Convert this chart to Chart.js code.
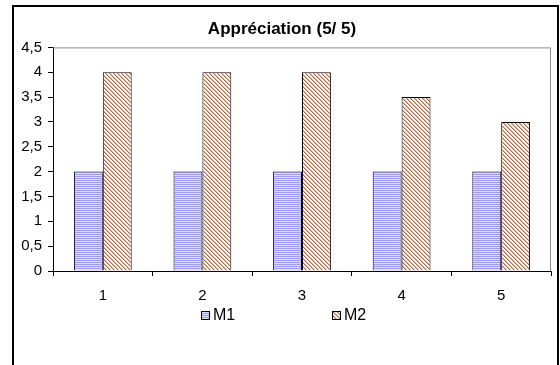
<!DOCTYPE html>
<html lang="fr">
<head>
<meta charset="UTF-8">
<title>Appréciation (5/ 5)</title>
<script src="https://cdn.jsdelivr.net/npm/chart.js"></script>
<style>
    html, body { margin: 0; padding: 0; background: #fff; }
    body { width: 560px; height: 365px; position: relative; overflow: hidden; font-family: 'Liberation Sans', Arial, sans-serif; }
    .frame {
        position: absolute; left: 12px; top: 5px; width: 543px; height: 400px;
        border: 2px solid #000; pointer-events: none;
    }
    .chart-wrapper { position: absolute; left: 0; top: 0; width: 560px; height: 365px; }
    /* legend drawn in html, Excel puts the two entries far apart */
    #legend { position: absolute; top: 305px; left: 0; width: 560px; height: 20px; }
    #legend .item { position: absolute; top: 0; display: flex; align-items: center; height: 20px; }
    #legend canvas { width: 9px; height: 9px; display: block; margin-right: 3px; }
    #legend span { font-size: 16px; color: #000; line-height: 20px; }
</style>
</head>
<body>
<div class="chart-wrapper"><canvas id="barChart"></canvas></div>
<div id="legend"></div>
<div class="frame"></div>

<script>
const categories = ['1', '2', '3', '4', '5'];
const seriesNames = ['M1', 'M2'];
const m1Values = [2, 2, 2, 2, 2];
const m2Values = [4, 4, 4, 3.5, 3];
const yMax = 4.5;
const yStep = 0.5;

// little tiles used as fill patterns (like the old Excel hatches)
function makePattern(size, pixelColor) {
    const c = document.createElement('canvas');
    c.width = size; c.height = size;
    const g = c.getContext('2d');
    for (let y = 0; y < size; y++) {
        for (let x = 0; x < size; x++) {
            g.fillStyle = pixelColor(x, y);
            g.fillRect(x, y, 1, 1);
        }
    }
    return g.createPattern(c, 'repeat');
}

const stripesBlue = makePattern(2, (x, y) => y % 2 === 0 ? '#9c9cf6' : '#dcdcff');
const hatchBrown = makePattern(4, (x, y) => {
    const d = (x - y + 4) % 4;
    if (d === 0) return '#c0643e';
    if (d === 1) return '#e6b49c';
    return '#ffffff';
});

// gray top/right edge of the plot area
const plotFrame = {
    id: 'plotFrame',
    afterDatasetsDraw(chart) {
        const a = chart.chartArea, ctx = chart.ctx;
        ctx.save();
        ctx.strokeStyle = '#8c8c8c';
        ctx.lineWidth = 1;
        ctx.beginPath();
        ctx.moveTo(a.left, a.top + 0.5);
        ctx.lineTo(a.right - 0.5, a.top + 0.5);
        ctx.lineTo(a.right - 0.5, a.bottom);
        ctx.stroke();
        ctx.restore();
    }
};

// builds the legend entries from the datasets
const legendLeft = [201, 332];
const htmlLegend = {
    id: 'htmlLegend',
    afterUpdate(chart) {
        const box = document.getElementById('legend');
        box.innerHTML = '';
        chart.data.datasets.forEach((ds, i) => {
            const item = document.createElement('div');
            item.className = 'item';
            item.style.left = legendLeft[i] + 'px';
            const sw = document.createElement('canvas');
            sw.width = 9; sw.height = 9;
            const g = sw.getContext('2d');
            g.fillStyle = ds.backgroundColor;
            g.fillRect(0, 0, 9, 9);
            g.strokeStyle = '#000';
            g.lineWidth = 1;
            g.strokeRect(0.5, 0.5, 8, 8);
            const txt = document.createElement('span');
            txt.textContent = ds.label;
            item.appendChild(sw);
            item.appendChild(txt);
            box.appendChild(item);
        });
    }
};

const tickFont = { family: 'Liberation Sans', size: 15 };

const ctx = document.getElementById('barChart').getContext('2d');
new Chart(ctx, {
    type: 'bar',
    data: {
        labels: categories,
        datasets: [{
            label: seriesNames[0],
            data: m1Values,
            backgroundColor: stripesBlue,
            borderColor: '#000',
            borderWidth: 1
        }, {
            label: seriesNames[1],
            data: m2Values,
            backgroundColor: hatchBrown,
            borderColor: '#000',
            borderWidth: 1
        }]
    },
    options: {
        responsive: true,
        maintainAspectRatio: false,
        animation: false,
        layout: { padding: { left: 13, right: 9, top: 0, bottom: 64 } },
        datasets: { bar: { categoryPercentage: 0.58, barPercentage: 1 } },
        scales: {
            x: {
                grid: { offset: true, drawOnChartArea: false, drawTicks: true, tickLength: 5, color: '#000' },
                border: { color: '#000', width: 1 },
                ticks: { color: '#000', font: tickFont, padding: 11 },
                afterFit: (scale) => { scale.height = 30; }
            },
            y: {
                min: 0,
                max: yMax,
                ticks: {
                    stepSize: yStep,
                    autoSkip: false,
                    color: '#000',
                    font: tickFont,
                    padding: 6,
                    callback: (v) => String(v).replace('.', ',')
                },
                grid: { drawOnChartArea: false, drawTicks: true, tickLength: 5, color: '#000' },
                border: { color: '#000', width: 1 },
                afterFit: (scale) => { scale.width = 40; }
            }
        },
        plugins: {
            title: {
                display: true,
                text: 'Appréciation (5/ 5)',
                color: '#000',
                font: { family: 'Liberation Sans', size: 17, weight: 'bold' },
                padding: { top: 19, bottom: 8 }
            },
            legend: { display: false },
            tooltip: { enabled: false }
        }
    },
    plugins: [plotFrame, htmlLegend]
});
</script>
</body>
</html>
